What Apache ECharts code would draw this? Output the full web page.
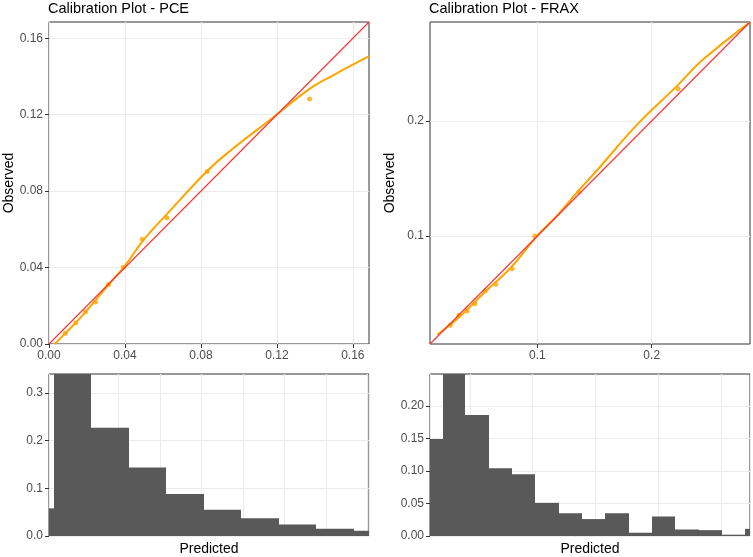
<!DOCTYPE html>
<html>
<head>
<meta charset="utf-8">
<script src="https://cdn.jsdelivr.net/npm/echarts@6/dist/echarts.min.js"></script>
<style>
  html, body { margin: 0; padding: 0; background: #fff; }
  #chart { width: 753px; height: 557px; }
</style>
</head>
<body>
<div id="chart"></div>
<script>
// PCE calibration: grouped observed points and loess curve
const pceObsX = [0.0086, 0.0141, 0.0192, 0.0245, 0.0313, 0.0391, 0.0491, 0.0621, 0.0833, 0.1372];
const pceObsY = [0.0056, 0.0110, 0.0167, 0.0220, 0.0311, 0.0401, 0.0548, 0.0661, 0.0903, 0.1282];
const pceCurveX = [0.003, 0.0083, 0.0192, 0.0313, 0.0401, 0.0491, 0.0621, 0.0833, 0.0948, 0.1178, 0.1372, 0.1494, 0.1685];
const pceCurveY = [0.000, 0.0053, 0.0167, 0.0310, 0.0410, 0.0536, 0.0680, 0.0905, 0.1006, 0.1184, 0.1335, 0.1405, 0.1506];

// FRAX calibration
const fraxObsX = [0.0237, 0.0313, 0.0383, 0.0452, 0.0542, 0.0635, 0.0779, 0.0977, 0.1362, 0.2231];
const fraxObsY = [0.0224, 0.0311, 0.0346, 0.0410, 0.0521, 0.0580, 0.0714, 0.1000, 0.1381, 0.2280];
const fraxCurveX = [0.0124, 0.031, 0.0536, 0.0768, 0.100, 0.1174, 0.1362, 0.1522, 0.187, 0.2217, 0.2449, 0.2855];
const fraxCurveY = [0.0143, 0.0288, 0.0507, 0.0725, 0.1003, 0.1178, 0.1396, 0.1571, 0.1965, 0.2300, 0.2533, 0.2855];

// predicted-value histograms (bin edges + density)
const pceHistEdges = [0.0066, 0.0090, 0.0270, 0.0450, 0.0631, 0.0813, 0.0993, 0.1173, 0.1353, 0.1534, 0.1608];
const pceHistDensity = [0.058, 0.36, 0.227, 0.144, 0.088, 0.055, 0.037, 0.024, 0.015, 0.011];
const fraxHistEdges = [0.0181, 0.0282, 0.0463, 0.0649, 0.0835, 0.1021, 0.1207, 0.1393, 0.1579, 0.1766,
  0.1951, 0.2137, 0.2324, 0.2510, 0.2695, 0.2733];
const fraxHistDensity = [0.149, 0.26, 0.186, 0.104, 0.095, 0.051, 0.035, 0.026, 0.035, 0.005,
  0.030, 0.010, 0.009, 0.002, 0.011];

// axis ranges and tick labels
const pceRange = [0, 0.1685];
const fraxRange = [0.006, 0.286];
const pceTicks = [0, 0.04, 0.08, 0.12, 0.16];
const fraxTicks = [0.1, 0.2];
const pceHistYTicks = [0, 0.1, 0.2, 0.3];
const fraxHistYTicks = [0, 0.05, 0.10, 0.15, 0.20];

const FONT = 'Liberation Sans, Arial, sans-serif';
const GRID_COL = '#EBEBEB';
const INK = '#333333';
const LABEL_COL = '#4D4D4D';
const ORANGE = '#FFA500';
const RED = '#FF3030';
const BAR_COL = '#595959';

const zip = (a, b) => a.map((v, i) => [v, b[i]]);
const histData = (edges, dens) => dens.map((d, i) => [edges[i], edges[i + 1], d]);

function histItem(params, api) {
	const p0 = api.coord([api.value(0), 0]);
	const p1 = api.coord([api.value(1), api.value(2)]);
	const cs = params.coordSys;
	// snap the bin edges to whole pixels so neighbouring bins meet without seams
	const x0 = Math.round(p0[0]);
	const x1 = Math.round(p1[0]);
	const shape = echarts.graphic.clipRectByRect(
		{ x: x0, y: p1[1], width: x1 - x0, height: p0[1] - p1[1] },
		{ x: cs.x, y: cs.y, width: cs.width, height: cs.height }
	);
	return shape && { type: 'rect', shape, style: { fill: BAR_COL } };
}

function valAxis(gridIndex, opts) {
	return Object.assign({
		type: 'value',
		gridIndex,
		axisLine: { show: false },
		axisTick: { show: false },
		axisLabel: { show: false },
		splitLine: { show: true, lineStyle: { color: GRID_COL, width: 1 } },
	}, opts);
}

function labelled(ticks, digits, margin) {
	return {
		axisTick: { show: true, customValues: ticks, length: 4, lineStyle: { color: INK, width: 1 } },
		axisLabel: {
			show: true, customValues: ticks, margin,
			color: LABEL_COL, fontSize: 12, fontFamily: FONT,
			formatter: (v) => v.toFixed(digits),
		},
	};
}

const yName = {
	name: 'Observed', nameLocation: 'middle', nameGap: 33,
	nameTextStyle: { color: '#000', fontSize: 14, fontFamily: FONT },
};
const xName = {
	name: 'Predicted', nameLocation: 'middle', nameGap: 6,
	nameTextStyle: { color: '#000', fontSize: 14, fontFamily: FONT, verticalAlign: 'top' },
};

const gridBase = { show: true, borderColor: INK, borderWidth: 1, backgroundColor: '#fff', containLabel: false };
const titleStyle = { color: '#000', fontSize: 14.5, fontWeight: 'normal', fontFamily: FONT };

// y = x reference line, from one corner of the square range to the other
const diag = (r) => [[r[0], r[0]], [r[1], r[1]]];

const option = {
	animation: false,
	backgroundColor: '#fff',
	title: [
		{ text: 'Calibration Plot - PCE', left: 48, top: 1, padding: 0, textStyle: titleStyle },
		{ text: 'Calibration Plot - FRAX', left: 429, top: 1, padding: 0, textStyle: titleStyle },
	],
	grid: [
		Object.assign({ left: 49, top: 22, width: 320, height: 322 }, gridBase),
		Object.assign({ left: 430, top: 22, width: 320, height: 322 }, gridBase),
		Object.assign({ left: 49, top: 374, width: 320, height: 162 }, gridBase),
		Object.assign({ left: 430, top: 374, width: 320, height: 162 }, gridBase),
	],
	xAxis: [
		valAxis(0, Object.assign({ min: pceRange[0], max: pceRange[1], interval: 0.02 }, labelled(pceTicks, 2, 6))),
		valAxis(1, Object.assign({ min: fraxRange[0], max: fraxRange[1], splitNumber: 5 },
			labelled(fraxTicks, 1, 6))),
		valAxis(2, Object.assign({ min: pceHistEdges[0], max: pceHistEdges[pceHistEdges.length - 1], splitNumber: 8 }, xName)),
		valAxis(3, Object.assign({ min: fraxHistEdges[0], max: fraxHistEdges[fraxHistEdges.length - 1], splitNumber: 5 }, xName)),
	],
	yAxis: [
		valAxis(0, Object.assign({ min: pceRange[0], max: pceRange[1], interval: 0.02 }, labelled(pceTicks, 2, 6), yName)),
		valAxis(1, Object.assign({ min: fraxRange[0], max: fraxRange[1], splitNumber: 5 }, labelled(fraxTicks, 1, 6), yName)),
		valAxis(2, Object.assign({ min: 0, max: 0.34, interval: 0.05 }, labelled(pceHistYTicks, 1, 6))),
		valAxis(3, Object.assign({ min: 0, max: 0.249, interval: 0.025 }, labelled(fraxHistYTicks, 2, 6))),
	],
	series: [
		{ type: 'line', xAxisIndex: 0, yAxisIndex: 0, data: zip(pceCurveX, pceCurveY), smooth: 0.4,
			symbol: 'none', lineStyle: { color: ORANGE, width: 2 }, z: 3 },
		{ type: 'scatter', xAxisIndex: 0, yAxisIndex: 0, data: zip(pceObsX, pceObsY),
			symbolSize: 5, itemStyle: { color: ORANGE }, z: 4 },
		{ type: 'line', xAxisIndex: 0, yAxisIndex: 0, data: diag(pceRange),
			symbol: 'none', lineStyle: { color: RED, width: 1.1 }, z: 5 },

		{ type: 'line', xAxisIndex: 1, yAxisIndex: 1, data: zip(fraxCurveX, fraxCurveY), smooth: 0.4,
			symbol: 'none', lineStyle: { color: ORANGE, width: 2 }, z: 3 },
		{ type: 'scatter', xAxisIndex: 1, yAxisIndex: 1, data: zip(fraxObsX, fraxObsY),
			symbolSize: 5, itemStyle: { color: ORANGE }, z: 4 },
		{ type: 'line', xAxisIndex: 1, yAxisIndex: 1, data: diag(fraxRange),
			symbol: 'none', lineStyle: { color: RED, width: 1.1 }, z: 5 },

		{ type: 'custom', xAxisIndex: 2, yAxisIndex: 2, renderItem: histItem,
			data: histData(pceHistEdges, pceHistDensity), encode: { x: [0, 1], y: 2 } },
		{ type: 'custom', xAxisIndex: 3, yAxisIndex: 3, renderItem: histItem,
			data: histData(fraxHistEdges, fraxHistDensity), encode: { x: [0, 1], y: 2 } },
	],
};

const chart = echarts.init(document.getElementById('chart'), null, { renderer: 'canvas' });
chart.setOption(option);
</script>
</body>
</html>
